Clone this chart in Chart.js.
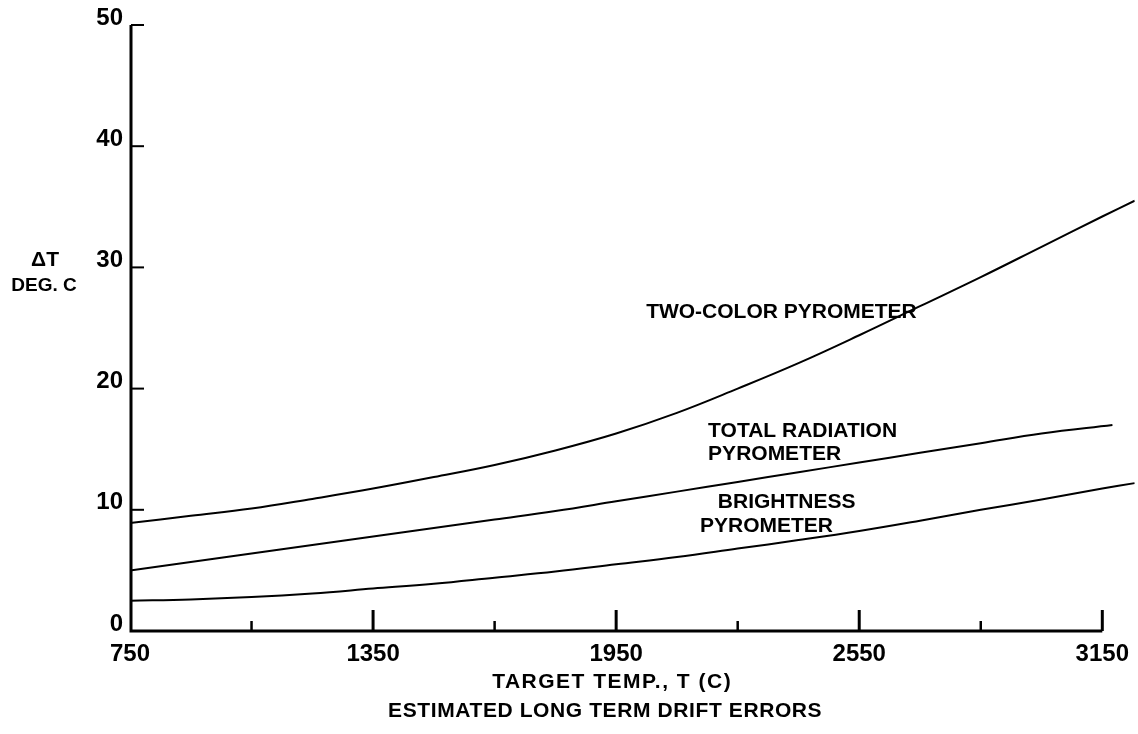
<!DOCTYPE html>
<html>
<head>
<meta charset="utf-8">
<script src="https://cdn.jsdelivr.net/npm/chart.js@4.4.1/dist/chart.umd.min.js"></script>
<style>
  html, body { margin: 0; padding: 0; background: #fff; }
  #wrap { width: 1138px; height: 734px; position: relative; }
</style>
</head>
<body>
<div id="wrap"><canvas id="c"></canvas></div>
<script>
// ---- data ----
const temps = [750, 900, 1050, 1200, 1350, 1500, 1650, 1800, 1950, 2100, 2250, 2400, 2550, 2700, 2850, 3000, 3150, 3230];
const twoColor = [8.9, 9.5, 10.1, 10.9, 11.75, 12.7, 13.7, 14.9, 16.3, 18.0, 20.0, 22.1, 24.4, 26.8, 29.2, 31.7, 34.2, 35.5];
const brightness = [2.5, 2.6, 2.8, 3.1, 3.5, 3.9, 4.4, 4.9, 5.5, 6.1, 6.8, 7.5, 8.25, 9.1, 10.0, 10.85, 11.75, 12.2];
const totalTemps = [750, 900, 1050, 1200, 1350, 1500, 1650, 1800, 1950, 2100, 2250, 2400, 2550, 2700, 2850, 3000, 3175];
const totalRadiation = [5.0, 5.7, 6.4, 7.1, 7.8, 8.5, 9.2, 9.9, 10.7, 11.5, 12.3, 13.1, 13.9, 14.7, 15.5, 16.3, 17.0];
const xTickLabels = [750, 1350, 1950, 2550, 3150];
const xMinorTicks = [1050, 1650, 2250, 2850];
const yTickLabels = [0, 10, 20, 30, 40, 50];

const FONT = "'Liberation Sans', Arial, sans-serif";
const pts = (xs, ys) => xs.map((x, i) => ({ x: x, y: ys[i] }));
const lineStyle = { borderColor: '#000', borderWidth: 2, pointRadius: 0, fill: false, tension: 0.4 };

const annotate = {
  id: 'annotate',
  afterDatasetsDraw(chart) {
    const ctx = chart.ctx, xs = chart.scales.x, ys = chart.scales.y;
    const X = v => xs.getPixelForValue(v), Y = v => ys.getPixelForValue(v);
    ctx.save();
    ctx.strokeStyle = '#000';
    ctx.fillStyle = '#000';
    ctx.lineCap = 'butt';
    // axes
    ctx.lineWidth = 3;
    ctx.beginPath();
    ctx.moveTo(X(750) + 1, Y(50));
    ctx.lineTo(X(750) + 1, Y(0));
    ctx.lineTo(X(3150), Y(0));
    ctx.stroke();
    // x ticks (drawn upward)
    ctx.lineWidth = 3;
    xTickLabels.slice(1).forEach(v => {
      ctx.beginPath(); ctx.moveTo(X(v), Y(0)); ctx.lineTo(X(v), Y(0) - 21); ctx.stroke();
    });
    ctx.lineWidth = 2.5;
    xMinorTicks.forEach(v => {
      ctx.beginPath(); ctx.moveTo(X(v), Y(0)); ctx.lineTo(X(v), Y(0) - 10); ctx.stroke();
    });
    // y ticks (drawn to the right)
    ctx.lineWidth = 2;
    yTickLabels.slice(1).forEach(v => {
      ctx.beginPath(); ctx.moveTo(X(750) + 1, Y(v)); ctx.lineTo(X(750) + 14, Y(v)); ctx.stroke();
    });
    // curve labels
    ctx.font = "bold 21px " + FONT;
    ctx.textAlign = 'left';
    ctx.textBaseline = 'alphabetic';
    ctx.fillText('TWO-COLOR PYROMETER', X(2024), Y(25.8));
    ctx.fillText('TOTAL RADIATION', X(2177), Y(16.0));
    ctx.fillText('PYROMETER', X(2177), Y(14.1));
    ctx.fillText('BRIGHTNESS', X(2201), Y(10.15));
    ctx.fillText('PYROMETER', X(2157), Y(8.17));
    // y axis title
    ctx.textAlign = 'center';
    ctx.font = "bold 21px " + FONT;
    ctx.fillText('\u0394T', 45, Y(30) - 1);
    ctx.font = "bold 19px " + FONT;
    ctx.fillText('DEG. C', 44, Y(30) + 24);
    // x axis title and caption
    ctx.font = "bold 21px " + FONT;
    ctx.letterSpacing = '1.5px';
    ctx.fillText('TARGET TEMP., T (C)', X(1950) - 4, Y(0) + 57);
    ctx.letterSpacing = '0.6px';
    ctx.fillText('ESTIMATED LONG TERM DRIFT ERRORS', X(1950) - 11, Y(0) + 86);
    ctx.restore();
  }
};

new Chart(document.getElementById('c'), {
  type: 'line',
  data: {
    datasets: [
      Object.assign({ label: 'Two-color pyrometer', data: pts(temps, twoColor) }, lineStyle),
      Object.assign({ label: 'Total radiation pyrometer', data: pts(totalTemps, totalRadiation) }, lineStyle),
      Object.assign({ label: 'Brightness pyrometer', data: pts(temps, brightness) }, lineStyle)
    ]
  },
  options: {
    responsive: true,
    maintainAspectRatio: false,
    animation: false,
    layout: { padding: { top: 25, left: 0, right: 0, bottom: 0 } },
    plugins: { legend: { display: false }, tooltip: { enabled: false } },
    scales: {
      x: {
        type: 'linear', min: 750, max: 3230,
        grid: { display: false, drawTicks: false }, border: { display: false },
        afterBuildTicks: s => { s.ticks = xTickLabels.map(v => ({ value: v })); },
        afterFit: s => { s.height = 103; },
        ticks: { color: '#000', font: { family: FONT, weight: 'bold', size: 24 }, padding: 9, maxRotation: 0, autoSkip: false, callback: v => String(v) }
      },
      y: {
        type: 'linear', min: 0, max: 50,
        grid: { display: false, drawTicks: false }, border: { display: false },
        afterBuildTicks: s => { s.ticks = yTickLabels.map(v => ({ value: v })); },
        afterFit: s => { s.width = 130; },
        ticks: { color: '#000', font: { family: FONT, weight: 'bold', size: 24 }, padding: 7, labelOffset: -7, callback: v => String(v) }
      }
    }
  },
  plugins: [annotate]
});
</script>
</body>
</html>
